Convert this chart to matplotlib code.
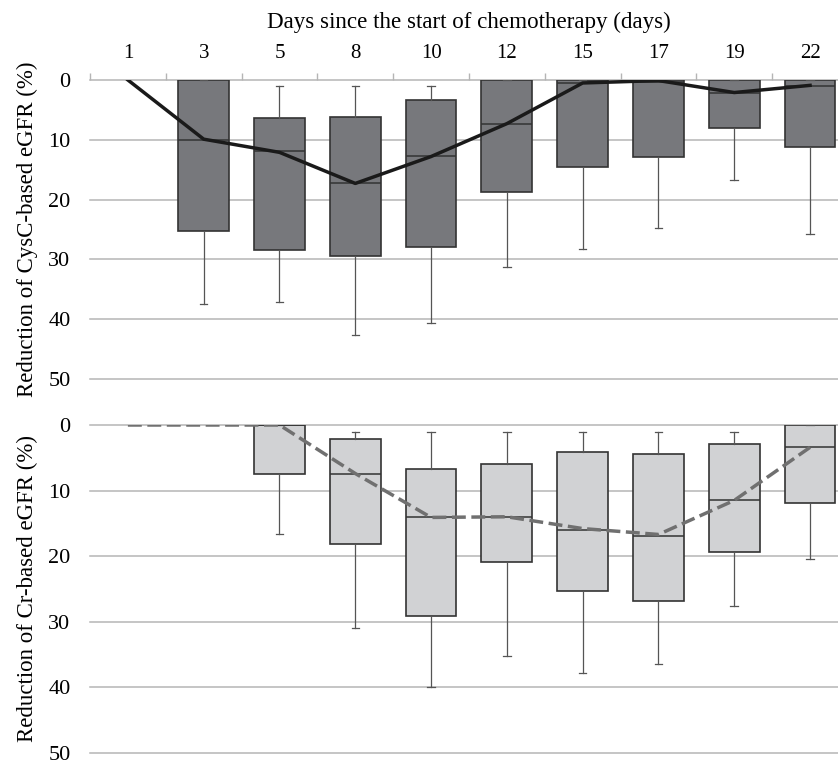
import numpy as np
import matplotlib
matplotlib.use("Agg")
import matplotlib.pyplot as plt

plt.rcParams['font.family'] = ['Liberation Serif', 'DejaVu Serif']

days = ['1', '3', '5', '8', '10', '12', '15', '17', '19', '22']

# CysC-based eGFR reduction (%), box summaries per day (nan = no box)
cysc_whislo = [np.nan, 0, 1.0, 1.0, 1.0, 0, 0, 0, 0, 0]
cysc_q1 = [np.nan, 0, 6.3, 6.2, 3.4, 0, 0, 0, 0, 0]
cysc_med = [np.nan, 10.0, 11.9, 17.3, 12.7, 7.4, 0.5, 0.4, 2.2, 1.0]
cysc_q3 = [np.nan, 25.2, 28.4, 29.4, 28.0, 18.7, 14.6, 12.9, 8.0, 11.2]
cysc_whishi = [np.nan, 37.4, 37.1, 42.7, 40.7, 31.2, 28.3, 24.7, 16.8, 25.8]
cysc_line = [0, 9.9, 12.1, 17.3, 12.8, 7.3, 0.5, 0.1, 2.1, 0.9]

# Cr-based eGFR reduction (%)
cr_whislo = [np.nan, np.nan, 0, 1.1, 1.1, 1.1, 1.1, 1.1, 1.1, 0]
cr_q1 = [np.nan, np.nan, 0, 2.1, 6.7, 5.9, 4.1, 4.4, 2.9, 0]
cr_med = [np.nan, np.nan, 0, 7.4, 14.1, 14.1, 16.0, 16.9, 11.5, 3.4]
cr_q3 = [np.nan, np.nan, 7.5, 18.2, 29.2, 20.9, 25.4, 26.9, 19.4, 11.9]
cr_whishi = [np.nan, np.nan, 16.7, 31.0, 39.9, 35.3, 37.8, 36.4, 27.6, 20.5]
cr_line = [0, 0, 0, 7.4, 14.1, 14.0, 15.8, 16.7, 11.5, 3.4]

yticks = [0, 10, 20, 30, 40, 50]
grid_color = '#b5b5b5'


def draw_panel(ax, whislo, q1, med, q3, whishi, line, face, line_style, line_color, ylabel):
	stats = []
	positions = []
	for i in range(len(days)):
		if np.isnan(q1[i]):
			continue
		stats.append(dict(whislo=whislo[i], q1=q1[i], med=med[i], q3=q3[i], whishi=whishi[i], fliers=[]))
		positions.append(i)

	for v in yticks:
		ax.axhline(v, color=grid_color, linewidth=1.1, clip_on=False, zorder=0)

	ax.bxp(stats, positions=positions, widths=0.67, capwidths=0.1, patch_artist=True, showfliers=False,
		boxprops=dict(facecolor=face, edgecolor='#333333', linewidth=1.2),
		medianprops=dict(color='#333333', linewidth=1.1),
		whiskerprops=dict(color='#555555', linewidth=0.9),
		capprops=dict(color='#555555', linewidth=0.9), zorder=2)

	ax.plot(np.arange(len(days)), line, linestyle=line_style, color=line_color, linewidth=2.5, zorder=3,
		dashes=(4, 1.6) if line_style == '--' else (None, None))

	ax.set_xlim(-0.5, 9.5)
	ax.set_ylim(50, 0)
	ax.set_yticks(yticks)
	ax.tick_params(axis='y', length=0, pad=14, labelsize=16)
	for s in ax.spines.values():
		s.set_visible(False)
	ax.set_ylabel(ylabel, fontsize=16.5)
	ax.yaxis.set_label_coords(-0.069, 0.5)


fig = plt.figure(figsize=(8.38, 7.61), dpi=100)
ax1 = fig.add_axes([0.1074, 0.502, 0.9045, 0.3929])
ax2 = fig.add_axes([0.1074, 0.0109, 0.9045, 0.4306])

draw_panel(ax1, cysc_whislo, cysc_q1, cysc_med, cysc_q3, cysc_whishi, cysc_line,
	'#77787c', '-', '#1a1a1a', 'Reduction of CysC-based eGFR (%)')
draw_panel(ax2, cr_whislo, cr_q1, cr_med, cr_q3, cr_whishi, cr_line,
	'#d1d2d4', '--', '#707070', 'Reduction of Cr-based eGFR (%)')

# top x axis: day labels at centres, tick marks at category boundaries
ax1.xaxis.tick_top()
ax1.set_xticks(np.arange(len(days)))
ax1.set_xticklabels(days)
ax1.set_xticks(np.arange(len(days) + 1) - 0.5, minor=True)
ax1.tick_params(axis='x', which='major', length=0, pad=12, labelsize=15)
ax1.tick_params(axis='x', which='minor', length=5, width=1, color=grid_color, direction='out')
ax1.xaxis.set_label_position('top')
ax1.set_xlabel('Days since the start of chemotherapy (days)', fontsize=16.6, labelpad=12)

ax2.set_xticks([])

plt.savefig('out.png', dpi=100)
plt.close()
